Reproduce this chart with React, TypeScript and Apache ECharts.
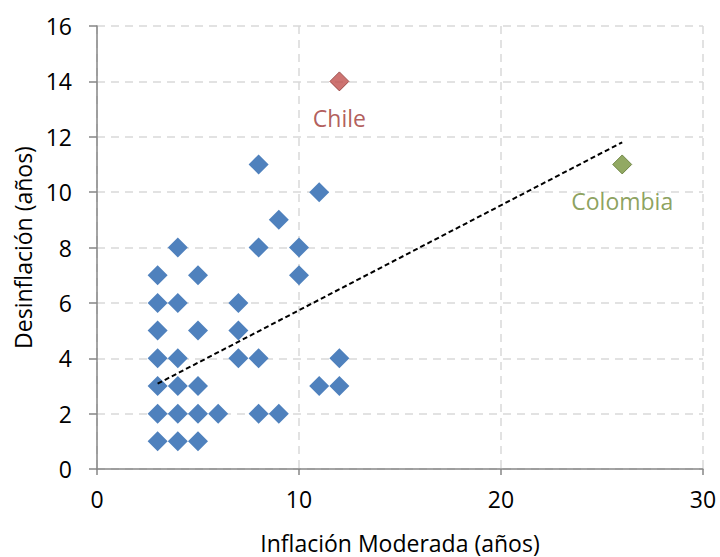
import React, { useEffect, useRef } from "react";
import * as echarts from "echarts";

const blueX = [3, 4, 5, 3, 4, 5, 6, 8, 9, 3, 4, 5, 11, 12, 3, 4, 7, 8, 12, 3, 5, 7, 3, 4, 7, 3, 5, 10, 4, 8, 10, 9, 11, 8];
const blueY = [1, 1, 1, 2, 2, 2, 2, 2, 2, 3, 3, 3, 3, 3, 4, 4, 4, 4, 4, 5, 5, 5, 6, 6, 6, 7, 7, 7, 8, 8, 8, 9, 10, 11];
const chile = [12, 14];
const colombia = [26, 11];
const trendX = [3, 26];
const trendY = [3.08, 11.8];
const xTicks = { min: 0, max: 30, interval: 10 };
const yTicks = { min: 0, max: 16, interval: 2 };

const FONT = "'Open Sans', 'Liberation Sans', sans-serif";
const FS = 23;

export default function App() {
  const ref = useRef<HTMLDivElement>(null);
  useEffect(() => {
    const chart = echarts.init(ref.current!, null, { renderer: "svg" });
    const axisLine = { show: true, lineStyle: { color: "#868686", width: 1.5 } };
    chart.setOption({
      animation: false,
      backgroundColor: "#fff",
      grid: { left: 97, right: 17, top: 26, bottom: 88, containLabel: false, outerBoundsMode: "none" },
      xAxis: {
        type: "value",
        min: xTicks.min,
        max: xTicks.max,
        interval: xTicks.interval,
        name: "Inflación Moderada (años)",
        nameLocation: "middle",
        nameGap: 62,
        nameTextStyle: { fontFamily: FONT, fontSize: FS, color: "#000" },
        axisLine: { ...axisLine, onZero: false },
        axisTick: { show: true, length: 6, inside: false, lineStyle: { color: "#868686", width: 1.5 } },
        axisLabel: { fontFamily: FONT, fontSize: FS, color: "#000", margin: 18 },
        splitLine: { show: true, lineStyle: { color: "#d9d9d9", type: [8, 6], width: 1.5 } },
      },
      yAxis: {
        type: "value",
        min: yTicks.min,
        max: yTicks.max,
        interval: yTicks.interval,
        name: "Desinflación (años)",
        nameLocation: "middle",
        nameGap: 63,
        nameRotate: 90,
        nameTextStyle: { fontFamily: FONT, fontSize: FS, color: "#000" },
        axisLine: { ...axisLine, onZero: false },
        axisTick: { show: true, length: 8, lineStyle: { color: "#868686", width: 1.5 } },
        axisLabel: { fontFamily: FONT, fontSize: FS, color: "#000", margin: 25 },
        splitLine: { show: true, lineStyle: { color: "#d9d9d9", type: [8, 6], width: 1.5 } },
      },
      series: [
        {
          type: "line",
          data: trendX.map((x, i) => [x, trendY[i]]),
          showSymbol: false,
          symbol: "none",
          lineStyle: { color: "#000", width: 2, type: [5, 3] },
          z: 3,
        },
        {
          type: "scatter",
          data: blueX.map((x, i) => [x, blueY[i]]),
          symbol: "diamond",
          symbolSize: [20, 20],
          itemStyle: { color: "#4F81BD", opacity: 1 },
          z: 2,
        },
        {
          type: "scatter",
          data: [chile],
          symbol: "diamond",
          symbolSize: [19, 19],
          itemStyle: { color: "#C0504D", borderColor: "#8C3836", borderWidth: 1 },
          label: {
            show: true,
            formatter: "Chile",
            position: "bottom",
            distance: 15,
            fontFamily: FONT,
            fontSize: FS,
            color: "#9E3432",
          },
          z: 4,
        },
        {
          type: "scatter",
          data: [colombia],
          symbol: "diamond",
          symbolSize: [19, 19],
          itemStyle: { color: "#77933C", borderColor: "#5E7530", borderWidth: 1 },
          label: {
            show: true,
            formatter: "Colombia",
            position: "bottom",
            distance: 15,
            fontFamily: FONT,
            fontSize: FS,
            color: "#6F8A36",
          },
          z: 4,
        },
      ],
    });
    return () => chart.dispose();
  }, []);
  return <div ref={ref} style={{ width: 720, height: 557, position: "absolute", left: 0, top: 0 }} />;
}
